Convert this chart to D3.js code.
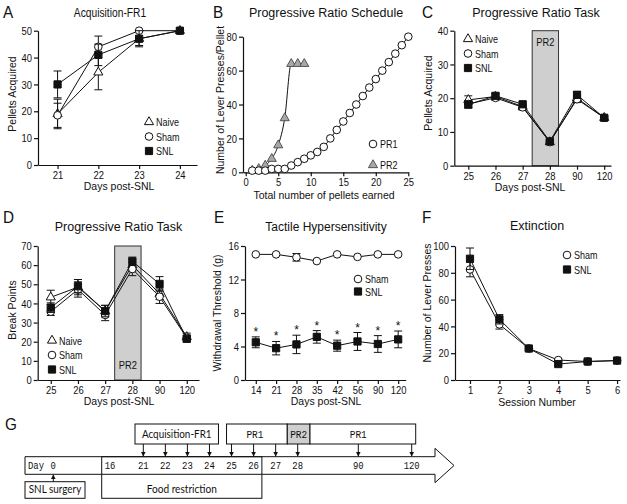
<!DOCTYPE html>
<html>
<head>
<meta charset="utf-8">
<script src="https://d3js.org/d3.v7.min.js"></script>
<style>
  body { margin: 0; background: #fff; }
  svg text { font-family: "Liberation Sans", Arial, sans-serif; fill: #111; }
</style>
</head>
<body>
<script>
// ---------------- data ----------------
// A - acquisition FR1
const acqDays = [21, 22, 23, 24];
const acqNaive = [19, 34.5, 47, 50],   acqNaiveErr = [5.5, 6.5, 2.5, 0];
const acqSham  = [18.5, 44, 50, 50],   acqShamErr  = [4.5, 4, 0, 0];
const acqSNL   = [30, 41, 47, 50],     acqSNLErr   = [5, 4, 3, 0];

// B - progressive ratio schedules
const pr1Pellets = d3.range(1, 26);
const pr1Presses = [1, 1, 1, 2, 2, 2, 4, 6, 8, 10, 12, 15, 20, 25, 30, 35, 40, 45, 50, 55, 60, 65, 70, 75, 80];
const pr2Pellets = [1, 2, 3, 4, 5, 6, 7, 8, 9];
const pr2Presses = [1, 2, 4, 8, 16, 32, 64, 64, 64];

// C - pellets acquired in the PR task
const prDays = ["25", "26", "27", "28", "90", "120"];
const cNaive = [19.5, 20.5, 17.5, 7, 20, 14.2],  cNaiveErr = [1.2, 0.8, 0.8, 0.5, 1, 0.5];
const cSham  = [18.3, 20.1, 17.3, 7, 19.7, 14.2], cShamErr = [1, 0.8, 0.8, 0.5, 1, 0.5];
const cSNL   = [18.1, 20.7, 18.2, 7.2, 21, 14.2], cSNLErr  = [1, 0.8, 0.8, 0.5, 1, 0.5];
const pr2Span = [2.35, 3.32];   // shaded PR2 session, in category units

// D - break points
const dNaive = [43.2, 48.5, 36, 60, 45, 22.5], dNaiveErr = [3.7, 4, 3, 3, 3, 2];
const dSham  = [35.7, 47.3, 34, 58, 43.5, 22], dShamErr  = [2, 4, 3, 3.5, 3.5, 1.5];
const dSNL   = [37.8, 49, 36, 62, 50.2, 21.5], dSNLErr   = [2.5, 3.5, 3, 2.2, 3.8, 1.5];

// E - tactile hypersensitivity
const vfDays = ["14", "21", "28", "35", "42", "56", "90", "120"];
const eSham = [15, 15, 14.65, 14.2, 15, 14.7, 15, 15], eShamErr = [0.15, 0.15, 0.45, 0.15, 0.15, 0.15, 0.15, 0.15];
const eSNL  = [4.5, 3.8, 4.25, 5.15, 4.1, 4.6, 4.3, 4.85], eSNLErr = [0.65, 0.8, 1.1, 0.75, 0.66, 1.07, 1.0, 1.0];

// F - extinction
const sessions = [1, 2, 3, 4, 5, 6];
const fSham = [82.5, 41.5, 23.5, 14.9, 13.8, 14.5], fShamErr = [5.5, 3.5, 1.5, 1, 1, 1];
const fSNL  = [90.5, 45.3, 23.5, 11.9, 13.8, 14.5], fSNLErr  = [8, 3.5, 1.5, 1, 1, 1];

// G - timeline
const tlDays = [0, 16, 21, 22, 23, 24, 25, 26, 27, 28, 90, 120];
const testDays = [21, 22, 23, 24, 25, 26, 27, 28, 90, 120];
const phases = ["Acquisition-FR1", "PR1", "PR2", "PR1"];
const phaseFrom = [21, 25, 28, 90];
const phaseTo = [24, 27, 28, 120];

// ---------------- drawing ----------------
const W = 627, H = 504;
const svg = d3.select("body").append("svg")
  .attr("width", W).attr("height", H)
  .style("background", "#fff");

// text helper, sx squeezes the glyphs horizontally like the original figure
function txt(x, y, s, size, o = {}) {
  const t = svg.append("text")
    .attr("transform", `translate(${x},${y}) scale(${o.sx || 1},1)` + (o.rot ? ` rotate(${o.rot})` : ""))
    .attr("font-size", size)
    .attr("text-anchor", o.anchor || "middle")
    .text(s);
  if (o.family) t.style("font-family", o.family);
  return t;
}

const TICK_SX = 0.82;

function axes(x, y, xTicks, yTicks, xFmt) {
  const gx = svg.append("g")
    .attr("transform", `translate(0,${y.range()[0]})`)
    .call(d3.axisBottom(x).tickValues(xTicks).tickFormat(xFmt || (d => d))
      .tickSize(4).tickPadding(2).tickSizeOuter(0));
  const gy = svg.append("g")
    .attr("transform", `translate(${x.range()[0]},0)`)
    .call(d3.axisLeft(y).tickValues(yTicks).tickSize(4).tickPadding(2).tickSizeOuter(0));
  [gx, gy].forEach(g => {
    g.attr("font-family", null);
    g.selectAll("path.domain, line").attr("stroke", "#111").attr("stroke-width", 1.2);
    g.selectAll("text").attr("font-size", 11.5).attr("fill", "#111");
  });
  gx.selectAll("text").attr("transform", `scale(${TICK_SX},1)`);
  gy.selectAll("text").attr("x", -6 / TICK_SX).attr("transform", `scale(${TICK_SX},1)`);
}

const sym = {
  tri: d3.symbol(d3.symbolTriangle, 36)(),
  circ: d3.symbol(d3.symbolCircle, 46)(),
  sq: d3.symbol(d3.symbolSquare, 52)()
};
const symStyle = {
  tri: { fill: "#fff", stroke: "#111" },
  circ: { fill: "#fff", stroke: "#111" },
  sq: { fill: "#111", stroke: "#111" }
};

function series(x, y, xs, vals, errs, shape, o = {}) {
  const pts = xs.map((d, i) => ({ x: d, v: vals[i], e: errs ? errs[i] : 0 }));
  svg.append("path").datum(pts)
    .attr("d", d3.line().x(d => x(d.x)).y(d => y(d.v)).curve(o.curve || d3.curveLinear))
    .attr("fill", "none").attr("stroke", o.line || "#111").attr("stroke-width", 1);
  const eb = svg.append("g").attr("stroke", "#111").attr("stroke-width", 1);
  pts.filter(d => d.e > 0.3).forEach(d => {
    const cx = x(d.x), y1 = y(d.v - d.e), y2 = y(d.v + d.e);
    eb.append("line").attr("x1", cx).attr("x2", cx).attr("y1", y1).attr("y2", y2);
    eb.append("line").attr("x1", cx - 4).attr("x2", cx + 4).attr("y1", y1).attr("y2", y1);
    eb.append("line").attr("x1", cx - 4).attr("x2", cx + 4).attr("y1", y2).attr("y2", y2);
  });
  const st = o.style || symStyle[shape];
  svg.append("g").selectAll("path").data(pts).join("path")
    .attr("d", sym[shape])
    .attr("transform", d => `translate(${x(d.x)},${y(d.v)})`)
    .attr("fill", st.fill).attr("stroke", st.stroke).attr("stroke-width", 1);
}

function legend(x, y, names, shapes, o = {}) {
  names.forEach((n, i) => {
    const yy = y + i * (o.step || 14.5);
    const st = (o.styles && o.styles[i]) || symStyle[shapes[i]];
    svg.append("path").attr("d", sym[shapes[i]])
      .attr("transform", `translate(${x},${yy})`)
      .attr("fill", st.fill).attr("stroke", st.stroke).attr("stroke-width", 1);
    txt(x + 7, yy + 4, n, 11, { anchor: "start", sx: 0.82 });
  });
}

function panelLetter(x, y, s) { txt(x, y, s, 17, { anchor: "start", sx: 0.9 }); }

const idx = arr => arr.map((d, i) => i);

// ---- A ----
{
  const x = d3.scaleLinear().domain([20.52, 24.42]).range([38, 197]);
  const y = d3.scaleLinear().domain([0, 50]).range([165, 30.7]);
  axes(x, y, acqDays, d3.range(0, 51, 10));
  series(x, y, acqDays, acqNaive, acqNaiveErr, "tri");
  series(x, y, acqDays, acqSham, acqShamErr, "circ");
  series(x, y, acqDays, acqSNL, acqSNLErr, "sq");
  legend(149, 122, ["Naive", "Sham", "SNL"], ["tri", "circ", "sq"]);
  panelLetter(3, 18, "A");
  txt(110, 17, "Acquisition-FR1", 12.5, { sx: 0.82 });
  txt(16, 94, "Pellets Acquired", 10.5, { rot: -90 });
  txt(119, 190, "Days post-SNL", 10.5);
}

// ---- B ----
{
  const x = d3.scaleLinear().domain([-0.42, 25]).range([243, 408.3]);
  const y = d3.scaleLinear().domain([0, 80]).range([172.3, 36.7]);
  axes(x, y, d3.range(0, 26, 5), d3.range(0, 81, 20));
  const pr2Style = { fill: "#a8a8a8", stroke: "#555" };
  series(x, y, pr2Pellets, pr2Presses, null, "tri", { curve: d3.curveMonotoneX, style: pr2Style });
  series(x, y, pr1Pellets, pr1Presses, null, "circ", { curve: d3.curveMonotoneX });
  legend(373, 144, ["PR1", "PR2"], ["circ", "tri"], { step: 21, styles: [null, pr2Style] });
  panelLetter(213, 18, "B");
  txt(326, 17, "Progressive Ratio Schedule", 12.5);
  txt(224, 100, "Number of Lever Presses/Pellet", 10.5, { rot: -90 });
  txt(324, 198.5, "Total number of pellets earned", 10.5);
}

// shaded PR2 band + label
function pr2Band(x, y, labelY) {
  svg.append("rect")
    .attr("x", x(pr2Span[0])).attr("width", x(pr2Span[1]) - x(pr2Span[0]))
    .attr("y", y.range()[1]).attr("height", y.range()[0] - y.range()[1])
    .attr("fill", "#cfcfcf").attr("stroke", "#333").attr("stroke-width", 1);
  txt((x(pr2Span[0]) + x(pr2Span[1])) / 2, labelY, "PR2", 11, { sx: 0.85 });
}

// ---- C ----
{
  const x = d3.scaleLinear().domain([-0.515, 5.25]).range([454.3, 611]);
  const y = d3.scaleLinear().domain([0, 40]).range([165.7, 30.7]);
  pr2Band(x, y, 46);
  axes(x, y, idx(prDays), d3.range(0, 41, 10), i => prDays[i]);
  series(x, y, idx(prDays), cNaive, cNaiveErr, "tri");
  series(x, y, idx(prDays), cSham, cShamErr, "circ");
  series(x, y, idx(prDays), cSNL, cSNLErr, "sq");
  legend(468, 39, ["Naive", "Sham", "SNL"], ["tri", "circ", "sq"]);
  panelLetter(422, 18, "C");
  txt(536, 17, "Progressive Ratio Task", 12.5);
  txt(432, 93, "Pellets Acquired", 10.5, { rot: -90 });
  txt(530, 191, "Days post-SNL", 10.5);
}

// ---- D ----
{
  const x = d3.scaleLinear().domain([-0.48, 5.45]).range([37.7, 199]);
  const y = d3.scaleLinear().domain([0, 70]).range([380, 246]);
  pr2Band(x, y, 369);
  axes(x, y, idx(prDays), d3.range(0, 71, 10), i => prDays[i]);
  series(x, y, idx(prDays), dNaive, dNaiveErr, "tri");
  series(x, y, idx(prDays), dSham, dShamErr, "circ");
  series(x, y, idx(prDays), dSNL, dSNLErr, "sq");
  legend(52, 340.5, ["Naive", "Sham", "SNL"], ["tri", "circ", "sq"]);
  panelLetter(3, 223, "D");
  txt(118.5, 231, "Progressive Ratio Task", 12.5);
  txt(16, 310, "Break Points", 10.5, { rot: -90 });
  txt(119, 405, "Days post-SNL", 10.5);
}

// ---- E ----
{
  const x = d3.scaleLinear().domain([-0.53, 7.37]).range([245, 405.7]);
  const y = d3.scaleLinear().domain([0, 16]).range([380, 246]);
  axes(x, y, idx(vfDays), d3.range(0, 17, 4), i => vfDays[i]);
  series(x, y, idx(vfDays), eSham, eShamErr, "circ");
  series(x, y, idx(vfDays), eSNL, eSNLErr, "sq");
  // significance marks over every SNL point
  idx(vfDays).forEach(i => txt(x(i), y(eSNL[i] + eSNLErr[i]) - 1, "*", 12));
  legend(358, 279, ["Sham", "SNL"], ["circ", "sq"], { step: 12.5 });
  panelLetter(214, 223, "E");
  txt(326, 231, "Tactile Hypersensitivity", 12.5, { sx: 0.96 });
  txt(221, 313, "Withdrawal Threshold (g)", 10.5, { rot: -90 });
  txt(326, 405, "Days post-SNL", 10.5);
}

// ---- F ----
{
  const x = d3.scaleLinear().domain([0.49, 6.1]).range([455, 620]);
  const y = d3.scaleLinear().domain([0, 100]).range([380, 246]);
  axes(x, y, sessions, d3.range(0, 101, 20));
  series(x, y, sessions, fSham, fShamErr, "circ");
  series(x, y, sessions, fSNL, fSNLErr, "sq");
  legend(567, 255, ["Sham", "SNL"], ["circ", "sq"]);
  panelLetter(422, 223, "F");
  txt(537, 230, "Extinction", 12.5);
  txt(431, 303, "Number of Lever Presses", 10.5, { rot: -90 });
  txt(537, 406, "Session Number", 10.5);
}

// ---- G : timeline ----
{
  const mono = "'Liberation Mono', 'DejaVu Sans Mono', monospace";
  const sans = "Lato, 'Open Sans', sans-serif";
  const t = d3.scaleLinear().domain([0, 16, 21, 28, 90, 120]).range([53.3, 110, 143.3, 297.7, 358.3, 411.7]);
  const top = 456.7, bot = 474.3, boxTop = 424, boxBot = 444;

  svg.append("defs").append("marker")
    .attr("id", "ah").attr("viewBox", "0 0 6 6").attr("refX", 5.5).attr("refY", 3)
    .attr("markerWidth", 5).attr("markerHeight", 5).attr("orient", "auto")
    .append("path").attr("d", "M0,0L6,3L0,6Z").attr("fill", "#111");

  // main arrow
  svg.append("path")
    .attr("d", `M25,${top}H435V448.3L454,465.5L435,482.7V${bot}H25Z`)
    .attr("fill", "#fff").attr("stroke", "#111").attr("stroke-width", 1);

  // food restriction box (its sides cut through the arrow)
  const frL = t(16) - 8.3, frR = t(26) + 8.3;
  svg.append("rect").attr("x", frL).attr("y", top).attr("width", frR - frL).attr("height", 498.3 - top)
    .attr("fill", "none").attr("stroke", "#111").attr("stroke-width", 1);
  txt((frL + frR) / 2, 492.5, "Food restriction", 11, { family: sans, sx: 0.92 });

  // SNL surgery box
  svg.append("rect").attr("x", 25).attr("y", 481.7).attr("width", 60).attr("height", 16.6)
    .attr("fill", "#fff").attr("stroke", "#111").attr("stroke-width", 1);
  txt(55, 492.5, "SNL surgery", 11, { family: sans, sx: 0.9 });
  svg.append("line").attr("x1", t(0)).attr("x2", t(0)).attr("y1", 481.7).attr("y2", bot + 0.5)
    .attr("stroke", "#111").attr("marker-end", "url(#ah)");

  // day numbers
  txt(28, 468.5, "Day", 10.5, { anchor: "start", family: mono, sx: 0.85 });
  tlDays.forEach(d => txt(t(d), 468.5, d, 10.5, { family: mono, sx: 0.85 }));

  // session boxes
  const padL = [8.3, 5, 10.4, 48.3], padR = [9, 11.6, 12.3, 4];
  const labelDx = [0, -2, 0, -4.6];
  phases.forEach((p, i) => {
    const l = t(phaseFrom[i]) - padL[i], r = t(phaseTo[i]) + padR[i];
    svg.append("rect").attr("x", l).attr("y", boxTop).attr("width", r - l).attr("height", boxBot - boxTop)
      .attr("fill", p === "PR2" ? "#cfcfcf" : "#fff").attr("stroke", "#111").attr("stroke-width", 1);
    const acq = p.startsWith("Acq");
    txt((l + r) / 2 + labelDx[i], 437.5, p, acq ? 11 : 10.5,
      { family: acq ? sans : mono, sx: 0.9 });
  });

  // test-day arrows
  testDays.forEach(d => {
    svg.append("line").attr("x1", t(d)).attr("x2", t(d)).attr("y1", boxBot).attr("y2", top - 0.5)
      .attr("stroke", "#111").attr("marker-end", "url(#ah)");
  });

  txt(5, 430, "G", 17, { anchor: "start", sx: 0.9 });
}
</script>
</body>
</html>
